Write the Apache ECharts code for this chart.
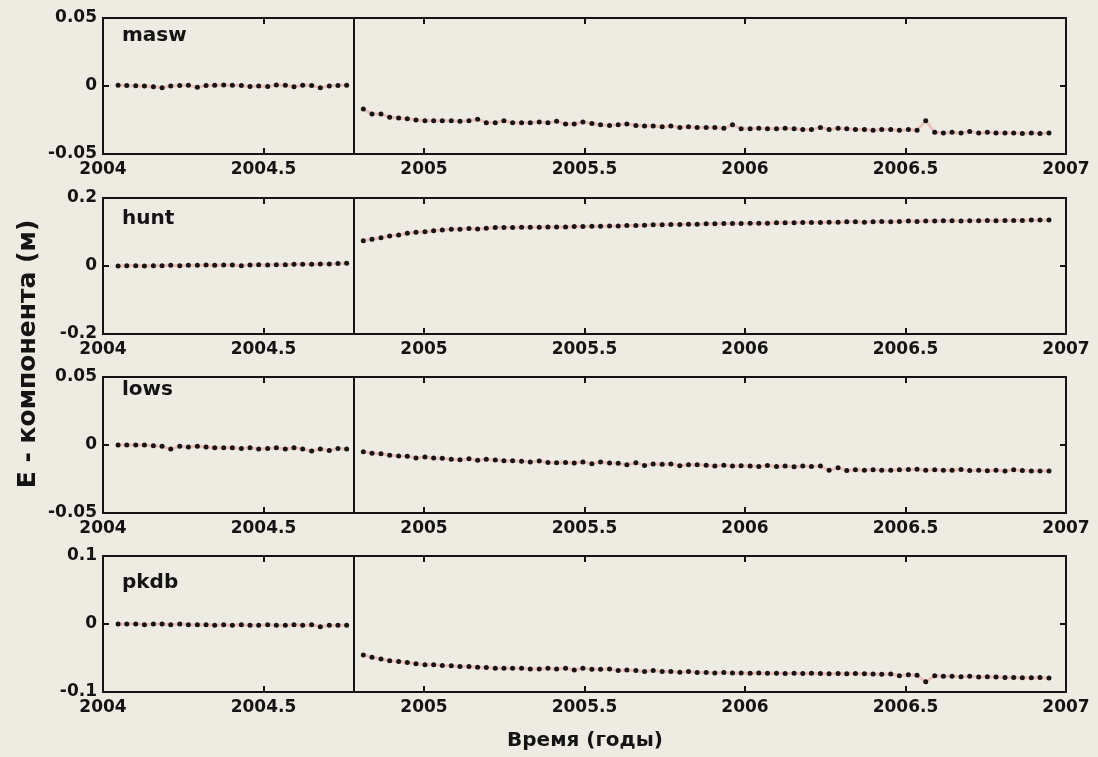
<!DOCTYPE html>
<html><head><meta charset="utf-8">
<script src="https://cdn.jsdelivr.net/npm/echarts@6/dist/echarts.min.js"></script>
<style>html,body{margin:0;padding:0;background:#eeebe2;}#c{width:1098px;height:757px;}</style>
</head><body><div id="c"></div>
<script>
// ---- data ----
const stations = ['masw', 'hunt', 'lows', 'pkdb'];
const eventTime = 2004.782;
const timesBefore = [2004.047,2004.074,2004.102,2004.129,2004.157,2004.184,2004.211,2004.239,2004.266,2004.294,2004.321,2004.348,2004.376,2004.403,2004.431,2004.458,2004.485,2004.513,2004.540,2004.568,2004.595,2004.622,2004.650,2004.677,2004.705,2004.732,2004.759];
const timesAfter = [2004.811,2004.838,2004.866,2004.893,2004.921,2004.948,2004.975,2005.003,2005.030,2005.057,
2005.085,2005.112,2005.140,2005.167,2005.194,2005.222,2005.249,2005.276,2005.304,2005.331,
2005.359,2005.386,2005.413,2005.441,2005.468,2005.495,2005.523,2005.550,2005.578,2005.605,
2005.632,2005.660,2005.687,2005.714,2005.742,2005.769,2005.797,2005.824,2005.851,2005.879,
2005.906,2005.934,2005.961,2005.988,2006.016,2006.043,2006.070,2006.098,2006.125,2006.153,
2006.180,2006.207,2006.235,2006.262,2006.290,2006.317,2006.344,2006.372,2006.399,2006.426,
2006.454,2006.481,2006.509,2006.536,2006.563,2006.591,2006.618,2006.645,2006.673,2006.700,
2006.728,2006.755,2006.782,2006.810,2006.837,2006.864,2006.892,2006.919,2006.947];

const maswBefore = [0.0005,0.0003,0.0002,0.0000,-0.0005,-0.0012,0.0000,0.0003,0.0005,-0.0010,0.0003,0.0005,0.0008,0.0005,0.0003,-0.0003,0.0000,-0.0003,0.0008,0.0005,-0.0005,0.0005,0.0003,-0.0012,0.0000,0.0003,0.0005];
const maswAfter = [-0.017,-0.0205,-0.0205,-0.023,-0.0235,-0.024,-0.025,-0.0255,-0.0255,-0.0255,
-0.0255,-0.026,-0.0255,-0.0245,-0.027,-0.027,-0.0255,-0.027,-0.027,-0.027,
-0.0265,-0.027,-0.026,-0.028,-0.028,-0.0265,-0.0275,-0.0285,-0.029,-0.0285,
-0.028,-0.029,-0.0295,-0.0295,-0.030,-0.0295,-0.0305,-0.030,-0.0305,-0.0305,
-0.0305,-0.031,-0.0285,-0.0315,-0.0315,-0.031,-0.0315,-0.0315,-0.031,-0.0315,
-0.032,-0.032,-0.0305,-0.032,-0.031,-0.0315,-0.032,-0.032,-0.0325,-0.032,
-0.032,-0.0325,-0.032,-0.0325,-0.0255,-0.034,-0.0345,-0.034,-0.0345,-0.0335,
-0.0345,-0.034,-0.0345,-0.0345,-0.0345,-0.035,-0.0345,-0.035,-0.0345];

const huntBefore = [0.000,0.001,0.001,0.000,0.001,0.001,0.002,0.001,0.002,0.002,0.003,0.002,0.003,0.003,0.001,0.003,0.004,0.003,0.004,0.004,0.005,0.005,0.005,0.006,0.006,0.007,0.008];
const huntAfter = [0.074,0.079,0.083,0.088,0.091,0.096,0.099,0.101,0.104,0.106,
0.108,0.108,0.110,0.109,0.111,0.113,0.113,0.113,0.114,0.114,
0.114,0.115,0.115,0.115,0.116,0.116,0.117,0.117,0.118,0.118,
0.119,0.119,0.120,0.121,0.121,0.122,0.122,0.123,0.123,0.124,
0.124,0.125,0.125,0.125,0.126,0.126,0.126,0.127,0.127,0.127,
0.128,0.128,0.128,0.129,0.129,0.130,0.130,0.129,0.130,0.131,
0.130,0.131,0.132,0.131,0.132,0.132,0.133,0.133,0.132,0.133,
0.133,0.134,0.133,0.134,0.134,0.134,0.135,0.135,0.135];

const lowsBefore = [0.000,0.000,0.000,0.000,-0.0005,-0.001,-0.003,-0.001,-0.0015,-0.001,-0.0015,-0.002,-0.002,-0.002,-0.0025,-0.002,-0.003,-0.0025,-0.002,-0.003,-0.002,-0.003,-0.0045,-0.003,-0.004,-0.0025,-0.003];
const lowsAfter = [-0.0049,-0.0061,-0.0065,-0.0075,-0.0080,-0.0082,-0.0095,-0.0088,-0.0095,-0.0098,
-0.0105,-0.0108,-0.0102,-0.0112,-0.0105,-0.0110,-0.0115,-0.0115,-0.0120,-0.0125,
-0.0118,-0.0128,-0.0130,-0.0128,-0.0132,-0.0125,-0.0138,-0.0125,-0.0132,-0.0135,
-0.0145,-0.0130,-0.0150,-0.0140,-0.0142,-0.0140,-0.0152,-0.0145,-0.0145,-0.0148,
-0.0155,-0.0148,-0.0155,-0.0152,-0.0155,-0.0158,-0.0150,-0.0158,-0.0155,-0.0160,
-0.0155,-0.0158,-0.0155,-0.0185,-0.0168,-0.0188,-0.0182,-0.0185,-0.0182,-0.0185,
-0.0185,-0.0182,-0.0180,-0.0178,-0.0185,-0.0182,-0.0185,-0.0185,-0.0180,-0.0188,
-0.0185,-0.0190,-0.0185,-0.0192,-0.0182,-0.0188,-0.0192,-0.0192,-0.0192];

const pkdbBefore = [0.000,0.000,0.000,-0.001,0.000,0.000,-0.001,0.000,-0.001,-0.001,-0.001,-0.002,-0.001,-0.002,-0.001,-0.002,-0.002,-0.001,-0.002,-0.002,-0.001,-0.002,-0.001,-0.004,-0.002,-0.002,-0.002];
const pkdbAfter = [-0.0456,-0.0490,-0.0515,-0.0540,-0.0550,-0.0565,-0.0585,-0.0600,-0.0600,-0.0610,
-0.0615,-0.0625,-0.0625,-0.0635,-0.0640,-0.0650,-0.0650,-0.0650,-0.0650,-0.0660,
-0.0660,-0.0650,-0.0660,-0.0650,-0.0675,-0.0650,-0.0665,-0.0665,-0.0660,-0.0685,
-0.0675,-0.0685,-0.0700,-0.0685,-0.0700,-0.0700,-0.0710,-0.0700,-0.0712,-0.0712,
-0.0720,-0.0712,-0.0720,-0.0720,-0.0725,-0.0720,-0.0725,-0.0725,-0.0728,-0.0725,
-0.0728,-0.0725,-0.0728,-0.0730,-0.0728,-0.0730,-0.0728,-0.0730,-0.0735,-0.0740,
-0.0735,-0.0760,-0.0745,-0.0755,-0.0848,-0.0760,-0.0770,-0.0770,-0.0775,-0.0770,
-0.0780,-0.0775,-0.0780,-0.0785,-0.0785,-0.0790,-0.0790,-0.0785,-0.0795];

const yMins = [-0.05, -0.2, -0.05, -0.1];
const yMaxs = [0.05, 0.2, 0.05, 0.1];
const yIntervals = [0.05, 0.2, 0.05, 0.1];
const xMin = 2004, xMax = 2007, xInterval = 0.5;
const yTitle = 'E - компонента (м)';
const xTitle = 'Время (годы)';

const before = [maswBefore, huntBefore, lowsBefore, pkdbBefore];
const after = [maswAfter, huntAfter, lowsAfter, pkdbAfter];

// ---- layout ----
const FONT = '"DejaVu Sans", "Liberation Sans", Arial, sans-serif';
const INK = '#141414';
const gridTops = [18, 198, 377, 556];
const gridH = 136;
const nameY = [38, 221, 392, 585];

const fmt = v => String(+(+v).toFixed(3));
const grid = [], xAxis = [], yAxis = [], series = [], graphic = [];
const labelStyle = {fontFamily: FONT, fontWeight: 'bold', fontSize: 17, color: INK};

gridTops.forEach((top, i) => {
  grid.push({left: 103, right: 32, top: top, height: gridH, containLabel: false});
  const axLine = {show: true, onZero: false, lineStyle: {color: INK, width: 2}};
  const tick = {show: true, inside: true, length: 6, lineStyle: {color: INK, width: 2}};
  xAxis.push({type: 'value', gridIndex: i, position: 'bottom', min: xMin, max: xMax, interval: xInterval,
    axisLine: axLine, axisTick: tick, splitLine: {show: false},
    axisLabel: Object.assign({show: true, margin: 7, formatter: fmt, showMinLabel: true, showMaxLabel: true, hideOverlap: false}, labelStyle)});
  xAxis.push({type: 'value', gridIndex: i, position: 'top', min: xMin, max: xMax, interval: xInterval,
    axisLine: axLine, axisTick: tick, splitLine: {show: false}, axisLabel: {show: false}});
  yAxis.push({type: 'value', gridIndex: i, position: 'left', min: yMins[i], max: yMaxs[i], interval: yIntervals[i],
    axisLine: axLine, axisTick: tick, splitLine: {show: false},
    axisLabel: Object.assign({show: true, margin: 6, formatter: fmt, showMinLabel: true, showMaxLabel: true, hideOverlap: false}, labelStyle)});
  yAxis.push({type: 'value', gridIndex: i, position: 'right', min: yMins[i], max: yMaxs[i], interval: yIntervals[i],
    axisLine: axLine, axisTick: tick, splitLine: {show: false}, axisLabel: {show: false}});

  const mk = (times, vals, withMark) => {
    const s = {
      type: 'line', xAxisIndex: 2 * i, yAxisIndex: 2 * i,
      data: times.map((t, k) => [t, vals[k]]),
      symbol: 'circle', symbolSize: 5, showSymbol: true,
      itemStyle: {color: '#1b1414'},
      lineStyle: {color: 'rgba(225,120,120,0.35)', width: 3},
      emphasis: {disabled: true}, silent: true, animation: false, z: 3
    };
    if (withMark) {
      s.markLine = {silent: true, symbol: 'none', animation: false, label: {show: false},
        lineStyle: {color: INK, width: 2, type: 'solid'}, data: [{xAxis: eventTime}]};
    }
    return s;
  };
  series.push(mk(timesBefore, before[i], true));
  series.push(mk(timesAfter, after[i], false));

  graphic.push({type: 'text', left: 122, top: nameY[i] - 12, silent: true,
    style: {text: stations[i], font: 'bold 20px ' + FONT, fill: INK}});
});

graphic.push({type: 'text', silent: true, x: 28, y: 354, rotation: Math.PI / 2,
  style: {text: yTitle, font: 'bold 25px ' + FONT, fill: INK, align: 'center', verticalAlign: 'middle'}});
graphic.push({type: 'text', silent: true, x: 585, y: 741,
  style: {text: xTitle, font: 'bold 20px ' + FONT, fill: INK, align: 'center', verticalAlign: 'middle'}});

const chart = echarts.init(document.getElementById('c'), null, {renderer: 'canvas'});
chart.setOption({
  backgroundColor: '#eeebe2',
  animation: false,
  grid, xAxis, yAxis, series, graphic
});
</script>
</body></html>
